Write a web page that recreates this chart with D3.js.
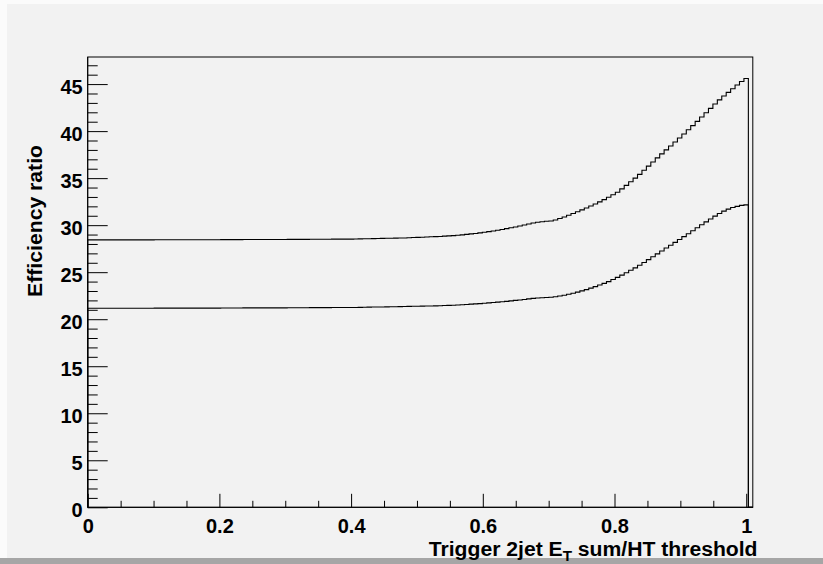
<!DOCTYPE html>
<html>
<head>
<meta charset="utf-8">
<script src="https://cdn.jsdelivr.net/npm/d3@7"></script>
<style>
  html, body { margin: 0; padding: 0; background: #ffffff; }
  svg { display: block; }
  text { font-family: "Liberation Sans", Arial, Helvetica, sans-serif; font-weight: bold; fill: #000; }
</style>
</head>
<body>
<svg id="chart" width="823" height="564"></svg>
<script>
// Histogram binning: 150 equal bins over [0, 1.01]
const xMin = 0, xMax = 1.01, nBins = 150;

// Upper curve: efficiency ratio per threshold bin
const upperValues = [
  28.44, 28.44, 28.44, 28.44, 28.44, 28.44, 28.44, 28.44, 28.44, 28.44,
  28.44, 28.44, 28.44, 28.44, 28.44, 28.45, 28.45, 28.45, 28.45, 28.45,
  28.45, 28.45, 28.45, 28.45, 28.45, 28.45, 28.45, 28.45, 28.45, 28.45,
  28.46, 28.46, 28.46, 28.46, 28.46, 28.47, 28.47, 28.47, 28.47, 28.47,
  28.48, 28.48, 28.48, 28.48, 28.48, 28.49, 28.49, 28.49, 28.49, 28.49,
  28.50, 28.50, 28.50, 28.50, 28.50, 28.52, 28.52, 28.52, 28.52, 28.52,
  28.53, 28.54, 28.55, 28.56, 28.57, 28.58, 28.59, 28.60, 28.61, 28.62,
  28.63, 28.64, 28.66, 28.68, 28.70, 28.72, 28.74, 28.76, 28.78, 28.80,
  28.83, 28.86, 28.89, 28.93, 28.97, 29.02, 29.07, 29.12, 29.18, 29.24,
  29.31, 29.38, 29.46, 29.54, 29.63, 29.72, 29.81, 29.91, 30.02, 30.13,
  30.23, 30.31, 30.37, 30.41, 30.45, 30.55, 30.70, 30.87, 31.05, 31.24,
  31.43, 31.62, 31.82, 32.03, 32.25, 32.48, 32.72, 32.97, 33.23, 33.50,
  33.86, 34.23, 34.61, 35.00, 35.40, 35.84, 36.28, 36.72, 37.15, 37.58,
  38.00, 38.42, 38.84, 39.27, 39.70, 40.14, 40.58, 41.04, 41.50, 41.96,
  42.42, 42.88, 43.32, 43.74, 44.12, 44.50, 44.90, 45.28, 45.60, 0
];

// Lower curve: efficiency ratio per threshold bin
const lowerValues = [
  21.17, 21.17, 21.17, 21.17, 21.17, 21.17, 21.17, 21.17, 21.17, 21.17,
  21.17, 21.17, 21.17, 21.17, 21.17, 21.18, 21.18, 21.18, 21.18, 21.18,
  21.18, 21.18, 21.18, 21.18, 21.18, 21.18, 21.18, 21.18, 21.18, 21.18,
  21.19, 21.19, 21.19, 21.19, 21.19, 21.20, 21.20, 21.20, 21.20, 21.20,
  21.21, 21.21, 21.21, 21.21, 21.21, 21.22, 21.22, 21.22, 21.22, 21.22,
  21.23, 21.23, 21.23, 21.23, 21.23, 21.24, 21.24, 21.24, 21.24, 21.24,
  21.25, 21.26, 21.27, 21.28, 21.29, 21.30, 21.30, 21.31, 21.32, 21.33,
  21.34, 21.35, 21.36, 21.37, 21.38, 21.39, 21.40, 21.41, 21.42, 21.43,
  21.45, 21.47, 21.49, 21.51, 21.54, 21.57, 21.60, 21.63, 21.66, 21.70,
  21.74, 21.78, 21.82, 21.86, 21.90, 21.95, 22.00, 22.05, 22.10, 22.16,
  22.21, 22.25, 22.28, 22.31, 22.34, 22.39, 22.46, 22.55, 22.65, 22.76,
  22.88, 23.01, 23.15, 23.30, 23.46, 23.63, 23.81, 24.00, 24.22, 24.45,
  24.69, 24.94, 25.20, 25.46, 25.73, 26.03, 26.33, 26.64, 26.95, 27.26,
  27.57, 27.87, 28.17, 28.47, 28.78, 29.09, 29.40, 29.72, 30.04, 30.35,
  30.66, 30.96, 31.24, 31.49, 31.70, 31.87, 32.00, 32.10, 32.16, 0
];

// Axis ticks and labels
const xMajorTicks = [0, 0.2, 0.4, 0.6, 0.8, 1];
const xTickLabels = ["0", "0.2", "0.4", "0.6", "0.8", "1"];
const xMinorTicks = [0.05, 0.1, 0.15, 0.25, 0.3, 0.35, 0.45, 0.5, 0.55, 0.65, 0.7, 0.75, 0.85, 0.9, 0.95];
const yMajorTicks = [0, 5, 10, 15, 20, 25, 30, 35, 40, 45];
const yMinorTicks = [1, 2, 3, 4, 6, 7, 8, 9, 11, 12, 13, 14, 16, 17, 18, 19, 21, 22, 23, 24,
                     26, 27, 28, 29, 31, 32, 33, 34, 36, 37, 38, 39, 41, 42, 43, 44, 46, 47];

const xTitle = { main: "Trigger 2jet E", sub: "T", rest: " sum/HT threshold" };
const yTitle = "Efficiency ratio";

const W = 823, H = 564;
const frame = { left: 87.7, right: 752.8, top: 57, bottom: 507.3 };
const yMax = d3.max(upperValues) * 1.05;

const svg = d3.select("#chart");

// canvas background with bevelled border
svg.append("rect").attr("x", 0).attr("y", 0).attr("width", W).attr("height", H).attr("fill", "#fbfbfb");
svg.append("rect").attr("x", 7).attr("y", 4).attr("width", W - 7).attr("height", H - 4).attr("fill", "#f2f2f2");
svg.append("rect").attr("x", 0).attr("y", 558).attr("width", W).attr("height", H - 558).attr("fill", "#a6a6a6");

const x = d3.scaleLinear().domain([xMin, xMax]).range([frame.left, frame.right]);
const y = d3.scaleLinear().domain([0, yMax]).range([frame.bottom, frame.top]);

// frame box
svg.append("rect")
  .attr("x", frame.left).attr("y", frame.top)
  .attr("width", frame.right - frame.left).attr("height", frame.bottom - frame.top)
  .attr("fill", "none").attr("stroke", "#000").attr("stroke-width", 1);

// histogram outlines (step style, closed down to zero at both ends)
const binWidth = (xMax - xMin) / nBins;
function stepPoints(values) {
  const pts = [[xMin, 0]];
  values.forEach((v, i) => pts.push([xMin + i * binWidth, v]));
  pts.push([xMax, values[values.length - 1]]);
  return pts;
}
const stepLine = d3.line()
  .x(d => x(d[0]))
  .y(d => y(d[1]))
  .curve(d3.curveStepAfter);

[upperValues, lowerValues].forEach(vals => {
  svg.append("path")
    .attr("d", stepLine(stepPoints(vals)))
    .attr("fill", "none")
    .attr("stroke", "#000")
    .attr("stroke-width", 1.1);
});

// x axis: ticks point into the frame
const xAxisMajor = d3.axisBottom(x).tickValues(xMajorTicks).tickSize(-13.5).tickPadding(0)
  .tickFormat((d, i) => xTickLabels[i]);
const gx = svg.append("g").attr("transform", `translate(0,${frame.bottom})`).call(xAxisMajor);
gx.selectAll("text").attr("font-size", 20).attr("y", 26).attr("dy", null).attr("fill", "#000");
gx.select(".domain").attr("stroke", "#000").attr("d", `M${frame.left},0H${frame.right}`);
gx.selectAll(".tick line").attr("stroke", "#000");

const gxm = svg.append("g").attr("transform", `translate(0,${frame.bottom})`)
  .call(d3.axisBottom(x).tickValues(xMinorTicks).tickSize(-6.5).tickFormat(""));
gxm.select(".domain").remove();
gxm.selectAll(".tick line").attr("stroke", "#000");

// y axis
const yAxisMajor = d3.axisLeft(y).tickValues(yMajorTicks).tickSize(-20).tickPadding(5)
  .tickFormat(d3.format("d"));
const gy = svg.append("g").attr("transform", `translate(${frame.left},0)`).call(yAxisMajor);
gy.selectAll("text").attr("font-size", 20).attr("dy", "0.46em").attr("fill", "#000");
gy.select(".domain").attr("stroke", "#000").attr("d", `M0,${frame.bottom}V${frame.top}`);
gy.selectAll(".tick line").attr("stroke", "#000");

const gym = svg.append("g").attr("transform", `translate(${frame.left},0)`)
  .call(d3.axisLeft(y).tickValues(yMinorTicks).tickSize(-10).tickFormat(""));
gym.select(".domain").remove();
gym.selectAll(".tick line").attr("stroke", "#000");

// axis titles, stretched horizontally to their measured extent
const xTitleRight = 757.5, xTitleWidth = 329;
const xtGroup = svg.append("g");
const xt = xtGroup.append("text")
  .attr("x", 0).attr("y", 0)
  .attr("text-anchor", "end")
  .attr("font-size", 19.5);
xt.append("tspan").text(xTitle.main);
xt.append("tspan").attr("font-size", 14).attr("dy", 5).text(xTitle.sub);
xt.append("tspan").attr("dy", -5).text(xTitle.rest);
const xtw = xt.node().getBBox().width;
xtGroup.attr("transform", `translate(${xTitleRight},555.5) scale(${xTitleWidth / xtw},1)`);

const ytGroup = svg.append("g");
const yt = ytGroup.append("text")
  .attr("text-anchor", "end")
  .attr("font-size", 20)
  .text(yTitle);
const ytw = yt.node().getBBox().width;
ytGroup.attr("transform", `translate(42,145) rotate(-90) scale(${152 / ytw},1)`);
</script>
</body>
</html>
